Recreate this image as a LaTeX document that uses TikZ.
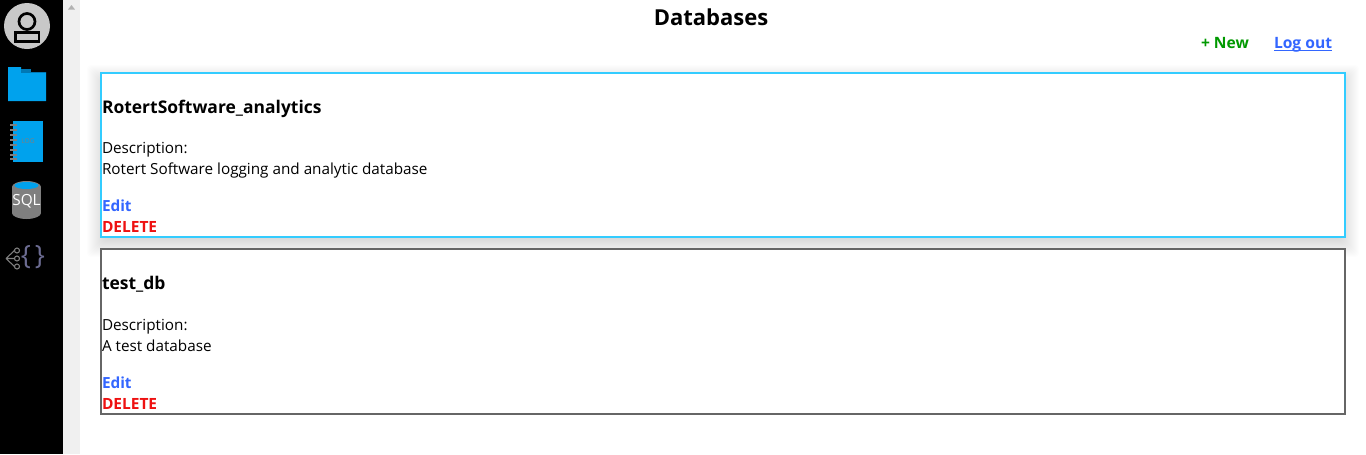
\documentclass[tikz,border=0pt]{standalone}
\usepackage{fontspec}
\setmainfont{Open Sans}
\usetikzlibrary{calc}
\definecolor{cyanb}{HTML}{33CCFF}
\definecolor{grayb}{HTML}{666666}
\definecolor{linkb}{HTML}{3366FF}
\definecolor{delr}{HTML}{EE1111}
\definecolor{newg}{HTML}{009900}
\definecolor{iconb}{HTML}{00A2ED}
\definecolor{icond}{HTML}{0078B4}
\definecolor{igray}{HTML}{7F7F7F}
\definecolor{sil}{HTML}{C8C8C8}
\tikzset{
  txt/.style={anchor=base west,inner sep=0pt,outer sep=0pt,font=\fontsize{11.45pt}{13pt}\selectfont},
  ttl/.style={txt,font=\fontsize{13.1pt}{15pt}\selectfont\bfseries},
  edit/.style={txt,font=\fontsize{11.5pt}{13pt}\selectfont\bfseries,text=linkb},
  del/.style={txt,font=\fontsize{11.6pt}{13pt}\selectfont\bfseries,text=delr},
  card/.style={line width=1.5pt,fill=white},
}
\begin{document}
\begin{tikzpicture}[x=0.75pt,y=-0.75pt]
\useasboundingbox (0,0) rectangle (1366,454);
\fill[white] (0,0) rectangle (1366,454);
% sidebar and scrollbar
\fill[black] (0,0) rectangle (63,454);
\fill[black!6] (63,0) rectangle (80,454);
\fill[black!30] (68,9.5) -- (75,9.5) -- (71.5,5) -- cycle;
% avatar
\fill[sil] (27,26) circle[radius=23];
\draw[black,line width=2pt] (27,21.5) circle[radius=8];
\draw[black,line width=2pt,fill=sil] (15.5,32.5) rectangle (39,41.5);
% folder
\fill[iconb] (8,67) rectangle (21,72) (8,72) rectangle (46,101);
\fill[icond] (21,68.5) rectangle (31,72.5);
\fill[icond] (21,72) rectangle (46,73);
% log book
\fill[iconb] (13,121) rectangle (43,162);
\foreach \yy in {124,129,134,139,144,149,154,158}
  \fill[igray] (10,\yy) rectangle (17,\yy+1.8);
\node[inner sep=0pt,font=\fontsize{5pt}{6pt}\selectfont,text=igray] (logtxt) at (28,141) {LOG};
% sql cylinder
\fill[igray] (26.5,187) ellipse[x radius=14.5,y radius=6];
\fill[igray] (12,187) rectangle (41,213);
\fill[igray] (26.5,213) ellipse[x radius=14.5,y radius=6];
\fill[iconb] (26.5,185.5) ellipse[x radius=12,y radius=3.5];
\node[inner sep=0pt,font=\fontsize{11.5pt}{13pt}\selectfont,text=white] (sqltxt) at (26.5,201.5) {SQL};
% json icon
\draw[igray,line width=0.8pt] (6,258.5) -- (15,250) (6,258.5) -- (15,258.5) (6,258.5) -- (15,267);
\draw[igray,line width=0.8pt,fill=black] (17,250.5) circle[radius=2.5] (17,258.5) circle[radius=2.5] (17,266.5) circle[radius=2.5];
\node[inner sep=0pt,font=\fontsize{20pt}{22pt}\selectfont,text=igray!85!blue] (lbr) at (26,257) {\{};
\node[inner sep=0pt,font=\fontsize{20pt}{22pt}\selectfont,text=igray!85!blue] (rbr) at (40,257) {\}};
% header
\node[inner sep=0pt,font=\fontsize{16.5pt}{19pt}\selectfont\bfseries] (title) at (711,17) {Databases};
\node[txt,font=\fontsize{11.7pt}{13pt}\selectfont\bfseries,text=newg] (new) at (1201,48) {+ New};
\node[txt,font=\fontsize{11.7pt}{13pt}\selectfont\bfseries,text=linkb] (logout) at (1274,48) {Log out};
\draw[linkb,line width=0.8pt] ($(logout.base west)+(0,2.5)$) -- ($(logout.base east)+(0,2.5)$);
% shadow
\foreach \i in {-5,...,14}
  \fill[black,opacity=0.008,rounded corners=3] (101-\i,79-\i) rectangle (1345+\i,243+\i);
% card 1
\draw[card,draw=cyanb] (101,73) rectangle (1345,237);
\node[ttl] (t1) at (102,113) {RotertSoftware\_analytics};
\node[txt] (d1) at (102,153) {Description:};
\node[txt] (d1b) at (102,174) {Rotert Software logging and analytic database};
\node[edit] (e1) at (102,211) {Edit};
\node[del] (x1) at (102,232) {DELETE};
% card 2
\draw[card,draw=grayb] (101,249) rectangle (1345,414);
\node[ttl] (t2) at (102,289) {test\_db};
\node[txt] (d2) at (102,330) {Description:};
\node[txt] (d2b) at (102,351) {A test database};
\node[edit] (e2) at (102,388) {Edit};
\node[del] (x2) at (102,409) {DELETE};
\end{tikzpicture}
\end{document}
